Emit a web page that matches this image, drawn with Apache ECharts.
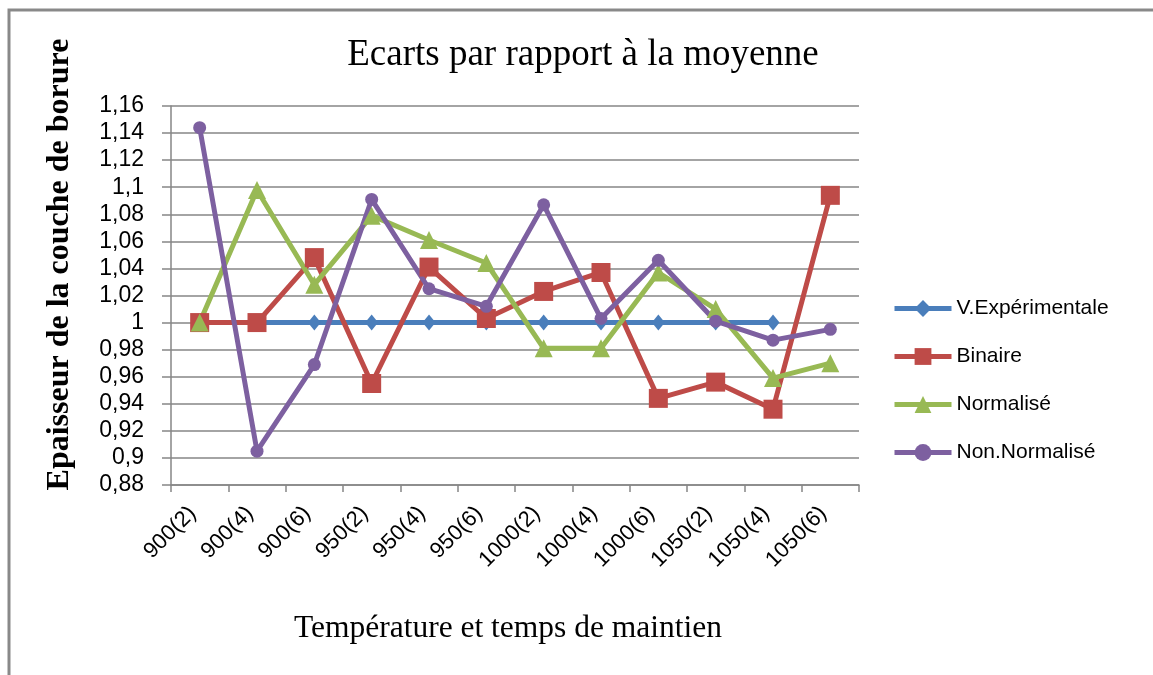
<!DOCTYPE html>
<html>
<head>
<meta charset="utf-8">
<title>Ecarts par rapport à la moyenne</title>
<script src="https://cdn.jsdelivr.net/npm/echarts@6/dist/echarts.min.js"></script>
<style>
  html, body { margin: 0; padding: 0; background: #ffffff; }
  #chart { width: 1153px; height: 675px; }
</style>
</head>
<body>
<div id="chart"></div>
<script>
// Categories: temperature (holding time)
const categories = ['900(2)', '900(4)', '900(6)', '950(2)', '950(4)', '950(6)',
                    '1000(2)', '1000(4)', '1000(6)', '1050(2)', '1050(4)', '1050(6)'];

// Ratio of each model to the mean
const experimental = [1, 1, 1, 1, 1, 1, 1, 1, 1, 1, 1, null];
const binaire = [1.000, 1.000, 1.048, 0.955, 1.041, 1.003, 1.023, 1.037, 0.944, 0.956, 0.936, 1.094];
const normalise = [1.000, 1.098, 1.028, 1.079, 1.061, 1.044, 0.981, 0.981, 1.037, 1.010, 0.959, 0.970];
const nonNormalise = [1.144, 0.905, 0.969, 1.091, 1.025, 1.012, 1.087, 1.003, 1.046, 1.001, 0.987, 0.995];

const seriesNames = ['V.Expérimentale', 'Binaire', 'Normalisé', 'Non.Normalisé'];

// Value axis range and step
const yMin = 0.88;
const yMax = 1.16;
const yStep = 0.02;

const colors = ['#4A7EBB', '#BE4B48', '#98B954', '#7D60A0'];

const fmtComma = v => String(Math.round(v * 100) / 100).replace('.', ',');

const chart = echarts.init(document.getElementById('chart'));

function lineSeries(name, data, symbol, size, color) {
  return {
    name: name,
    type: 'line',
    data: data,
    symbol: symbol,
    symbolSize: size,
    showAllSymbol: true,
    connectNulls: false,
    itemStyle: { color: color },
    lineStyle: { color: color, width: 5 },
    emphasis: { disabled: true },
    animation: false
  };
}

chart.setOption({
  animation: false,
  backgroundColor: '#ffffff',
  title: {
    text: 'Ecarts par rapport à la moyenne',
    left: 578,
    top: 50,
    textAlign: 'center',
    textVerticalAlign: 'middle',
    textStyle: {
      fontFamily: 'Liberation Serif',
      fontWeight: 'normal',
      fontSize: 37,
      color: '#000000'
    }
  },
  legend: {
    orient: 'vertical',
    left: 887,
    top: 293,
    itemWidth: 57,
    itemHeight: 21,
    itemGap: 27,
    data: seriesNames,
    lineStyle: { width: 5 },
    textStyle: {
      fontFamily: 'Liberation Sans',
      fontSize: 21,
      color: '#000000'
    }
  },
  grid: {
    left: 171,
    right: 294,
    top: 106,
    bottom: 190,
    containLabel: false
  },
  xAxis: {
    type: 'category',
    data: categories,
    boundaryGap: true,
    name: 'Température et temps de maintien',
    nameLocation: 'middle',
    nameGap: 128,
    nameTextStyle: {
      fontFamily: 'Liberation Serif',
      fontSize: 31.5,
      color: '#000000',
      padding: [0, 14, 0, 0]
    },
    axisLine: { lineStyle: { color: '#868686', width: 1.5 } },
    axisTick: { show: true, alignWithLabel: false, length: 7, lineStyle: { color: '#868686', width: 1.5 } },
    axisLabel: {
      rotate: 45,
      interval: 0,
      margin: 18,
      padding: [0, 10, 0, 0],
      fontFamily: 'Liberation Sans',
      fontSize: 22,
      color: '#000000'
    },
    splitLine: { show: false }
  },
  yAxis: {
    type: 'value',
    min: yMin,
    max: yMax,
    interval: yStep,
    name: 'Epaisseur de la couche de borure',
    nameLocation: 'middle',
    nameGap: 95,
    nameRotate: 90,
    nameTextStyle: {
      fontFamily: 'Liberation Serif',
      fontWeight: 'bold',
      fontSize: 32,
      color: '#000000',
      padding: [0, 0, 0, 62]
    },
    axisLine: { show: true, lineStyle: { color: '#868686', width: 1.5 } },
    axisTick: { show: true, length: 9, lineStyle: { color: '#868686', width: 1.5 } },
    axisLabel: {
      margin: 27,
      fontFamily: 'Liberation Sans',
      fontSize: 23,
      color: '#000000',
      formatter: fmtComma
    },
    splitLine: { show: true, lineStyle: { color: '#868686', width: 1.5 } }
  },
  graphic: [
    {
      type: 'polyline',
      shape: { points: [[9, 675], [9, 10], [1153, 10]] },
      style: { stroke: '#898989', lineWidth: 3, fill: null },
      silent: true
    }
  ],
  series: [
    lineSeries(seriesNames[0], experimental, 'diamond', [13, 16], colors[0]),
    lineSeries(seriesNames[1], binaire, 'rect', 19, colors[1]),
    lineSeries(seriesNames[2], normalise, 'triangle', 18, colors[2]),
    lineSeries(seriesNames[3], nonNormalise, 'circle', 13, colors[3])
  ]
});
</script>
</body>
</html>
